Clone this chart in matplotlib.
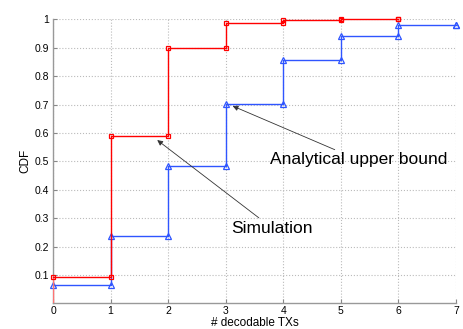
import numpy as np
import matplotlib
matplotlib.use("Agg")
import matplotlib.pyplot as plt

plt.rcParams['font.family'] = ['Liberation Sans', 'DejaVu Sans']

# CDF values, one per x (number of decodable TXs)
sim_x = [0, 1, 2, 3, 4, 5, 6]
sim_cdf = [0.093, 0.59, 0.90, 0.987, 0.998, 1.0, 1.0]
bound_x = [0, 1, 2, 3, 4, 5, 6, 7]
bound_cdf = [0.065, 0.237, 0.484, 0.702, 0.857, 0.942, 0.98, 0.98]

x_ticks = [0, 1, 2, 3, 4, 5, 6, 7]
y_ticks = [0.1, 0.2, 0.3, 0.4, 0.5, 0.6, 0.7, 0.8, 0.9, 1.0]


def step_points(xs, ys):
    # horizontal-then-vertical steps, marker at each corner
    px, py = [xs[0]], [ys[0]]
    for i in range(1, len(xs)):
        px += [xs[i], xs[i]]
        py += [ys[i - 1], ys[i]]
    return px, py


fig = plt.figure(figsize=(4.63, 3.29), dpi=100)
ax = fig.add_axes([0.1145, 0.078, 0.8705, 0.863])

bx, by = step_points(bound_x, bound_cdf)
ax.plot(bx, by, color='#2f55ff', lw=1.0, marker='^', ms=5, mfc='none', mew=0.9,
        clip_on=False, zorder=2)

# simulation: rises from 0 at x=0
sx, sy = step_points(sim_x, sim_cdf)
ax.plot([sim_x[0], sim_x[0]], [0, sim_cdf[0]], color=(1, 0.45, 0.45), lw=1.0, zorder=3)
ax.plot(sx, sy, color='red', lw=1.0, marker='s', ms=3.5, mfc='none', mew=0.9,
        clip_on=False, zorder=3)

ax.set_xlim(0, 7)
ax.set_ylim(0, 1)
ax.set_xticks(x_ticks)
ax.set_yticks(y_ticks)
ax.set_yticklabels(['0.1', '0.2', '0.3', '0.4', '0.5', '0.6', '0.7', '0.8', '0.9', '1'])
ax.tick_params(direction='in', labelsize=7.5, length=3, color='#888888')
ax.tick_params(axis='x', pad=2)
ax.tick_params(axis='y', pad=3)
ax.grid(True, linestyle=':', color='#bbbbbb', lw=0.8)
for s in ['top', 'right']:
    ax.spines[s].set_visible(False)
for s in ['left', 'bottom']:
    ax.spines[s].set_color('#999999')
    ax.spines[s].set_linewidth(1.0)

ax.set_xlabel('# decodable TXs', fontsize=8.5, va='top')
ax.xaxis.set_label_coords(0.5, -0.048)
ax.set_ylabel('CDF', fontsize=8.5, labelpad=2)

ax.annotate('Analytical upper bound', xy=(3.12, 0.695), xytext=(3.77, 0.505),
            fontsize=12.5, va='center', ha='left',
            arrowprops=dict(arrowstyle='-|>', color='#333333', lw=0.6,
                            mutation_scale=8, shrinkA=0, shrinkB=0))
ax.annotate('Simulation', xy=(1.81, 0.575), xytext=(3.1, 0.265),
            fontsize=12.5, va='center', ha='left',
            arrowprops=dict(arrowstyle='-|>', color='#333333', lw=0.6,
                            mutation_scale=8, shrinkA=0, shrinkB=0))

fig.savefig('out.png', dpi=100)
